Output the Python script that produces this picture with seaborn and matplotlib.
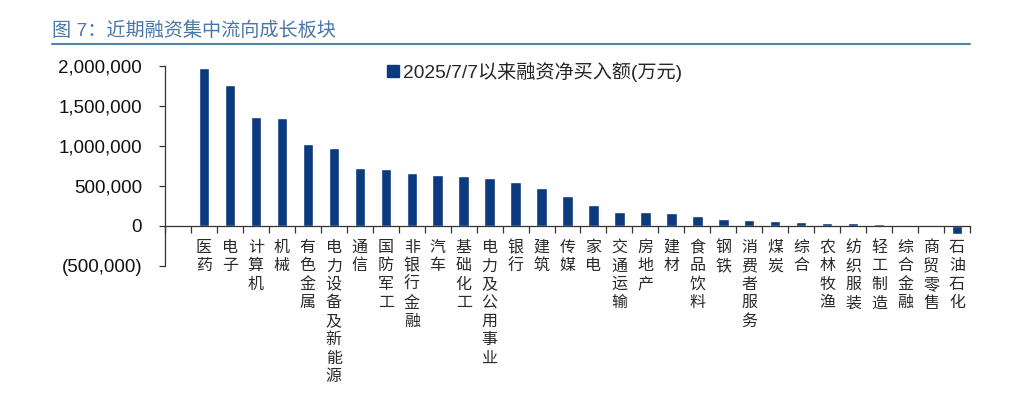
import matplotlib
matplotlib.use("Agg")
import matplotlib.pyplot as plt
import numpy as np
import seaborn as sns
from matplotlib.patches import Patch
from matplotlib.ticker import FuncFormatter, FixedLocator

# 行业及 2025/7/7 以来融资净买入额 (万元)
sectors = [
    "医药", "电子", "计算机", "机械", "有色金属", "电力设备及新能源", "通信",
    "国防军工", "非银行金融", "汽车", "基础化工", "电力及公用事业", "银行",
    "建筑", "传媒", "家电", "交通运输", "房地产", "建材", "食品饮料", "钢铁",
    "消费者服务", "煤炭", "综合", "农林牧渔", "纺织服装", "轻工制造",
    "综合金融", "商贸零售", "石油石化",
]
net_buy = [
    1980000, 1760000, 1360000, 1355000, 1030000, 980000, 720000,
    708000, 658000, 642000, 630000, 600000, 550000,
    475000, 370000, 262000, 172000, 172000, 162000, 125000, 92000,
    75000, 66000, 50000, 42000, 33000, 25000,
    17000, 3000, -95000,
]
y_ticks = [-500000, 0, 500000, 1000000, 1500000, 2000000]

title = "图 7：近期融资集中流向成长板块"
legend_label = "2025/7/7以来融资净买入额(万元)"

bar_color = "#0b3a7e"
title_color = "#4a76a8"

sns.set_theme(style="white")
plt.rcParams["font.family"] = ["Liberation Sans", "Noto Sans CJK SC", "DejaVu Sans"]

fig = plt.figure(figsize=(10.11, 3.98), dpi=100)
ax = fig.add_axes([165 / 1011, 1 - 266 / 398, 805 / 1011, 200 / 398])

sns.barplot(x=sectors, y=net_buy, color=bar_color, saturation=1,
            width=0.4, ax=ax)

ax.set_xlim(-1.5, len(sectors) - 0.5)
ax.set_ylim(-500000, 2000000)

# axes styling
for s in ["top", "right"]:
    ax.spines[s].set_visible(False)
ax.spines["bottom"].set_position(("data", 0))
for s in ["left", "bottom"]:
    ax.spines[s].set_color("#333333")
    ax.spines[s].set_linewidth(0.9)

ax.yaxis.set_major_locator(FixedLocator(y_ticks))
ax.yaxis.set_major_formatter(FuncFormatter(
    lambda v, p: f"({abs(v):,.0f})" if v < 0 else f"{v:,.0f}"))
ax.tick_params(axis="y", direction="out", length=4, width=0.9,
               color="#333333", labelsize=13.5, labelcolor="#111111", pad=12.5,
               left=True)

ax.set_xticks(range(len(sectors)))
ax.set_xticklabels(["\n".join(s) for s in sectors], fontsize=11.5,
                   color="#2a2a2a", linespacing=1.29)
ax.xaxis.set_minor_locator(FixedLocator(np.arange(-1.5, len(sectors), 1.0)))
ax.tick_params(axis="x", which="major", length=0, pad=10)
ax.tick_params(axis="x", which="minor", direction="out", length=5,
               width=0.9, color="#333333", bottom=True)
ax.set_xlabel("")
ax.set_ylabel("")
ax.grid(False)

# legend
handle = Patch(facecolor=bar_color, edgecolor=bar_color)
ax.legend([handle], [legend_label], loc="center left",
          bbox_to_anchor=(387 / 1011, 1 - 72 / 398),
          bbox_transform=fig.transFigure, frameon=False, fontsize=13.8,
          handlelength=0.6, handleheight=0.6, handletextpad=0.25,
          borderpad=0, borderaxespad=0)

# title and rule
fig.text(52 / 1011, 1 - 31 / 398, title, fontsize=13.8, color=title_color,
         va="center", ha="left")
fig.add_artist(plt.Line2D([52 / 1011, 970 / 1011], [1 - 44 / 398, 1 - 44 / 398],
                          color="#4f86a6", linewidth=1.5,
                          transform=fig.transFigure))

fig.savefig("out.png", dpi=100)
